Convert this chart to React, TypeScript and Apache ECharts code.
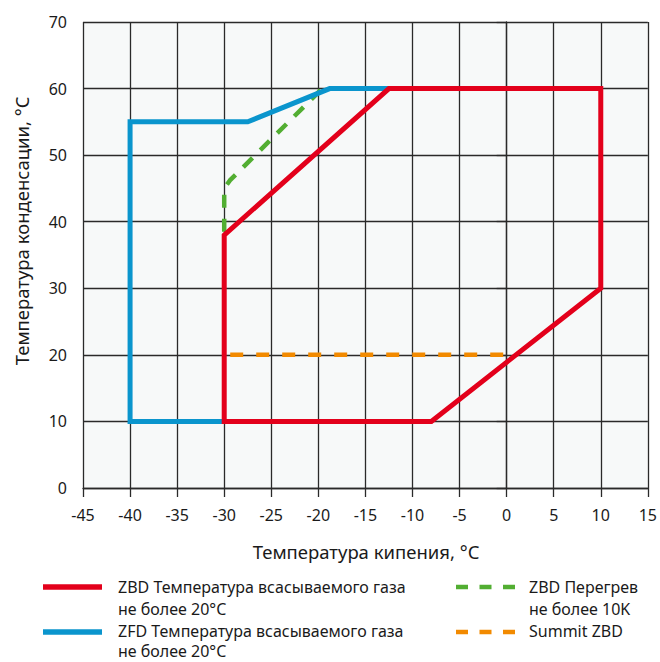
import React, { useEffect, useRef } from "react";
import * as echarts from "echarts";

// Data (evaporating temperature x, condensing temperature y)
const zbdX = [-30, -8, 10, 10, -12.5, -30, -30];
const zbdY = [10, 10, 30, 60, 60, 38, 10];
const zfdX = [-30, -40, -40, -27.5, -18.8, -12.5];
const zfdY = [10, 10, 55, 55, 60, 60];
const superheatX = [-30, -30, -29.4, -19.6];
const superheatY = [38.5, 45, 46.2, 60];
const summitX = [-30, 0.5];
const summitY = [20, 20];

const xTicks = [-45, -40, -35, -30, -25, -20, -15, -10, -5, 0, 5, 10, 15];
const yTicks = [0, 10, 20, 30, 40, 50, 60, 70];

const seriesNames = [
  ["ZBD Температура всасываемого газа", "не более 20°C"],
  ["ZFD Температура всасываемого газа", "не более 20°C"],
  ["ZBD Перегрев", "не более 10K"],
  ["Summit ZBD"],
];
const xTitle = "Температура кипения, °C";
const yTitle = "Температура конденсации, °C";

const RED = "#e3001b";
const BLUE = "#0a95cd";
const GREEN = "#52ae32";
const ORANGE = "#f28a00";
const FONT = '"Noto Sans", "Open Sans", sans-serif';

const pairs = (xs: number[], ys: number[]) => xs.map((x, i) => [x, ys[i]]);

export default function App() {
  const ref = useRef<HTMLDivElement>(null);
  useEffect(() => {
    if (!ref.current) return;
    const chart = echarts.init(ref.current, null, { renderer: "svg" });
    const gridLeft = 83, gridTop = 22, gridRight = 11, gridBottom = 174;
    const legendText = (x: number, y: number, t: string) => ({
      type: "text",
      x,
      y,
      style: {
        text: t,
        font: `16px ${FONT}`,
        fill: "#1a1a1a",
        textAlign: "left",
        verticalAlign: "middle",
        lineHeight: 16,
      },
    });
    const legendLine = (x: number, y: number, color: string, dash?: number[]) => ({
      type: "line",
      shape: { x1: x, y1: y, x2: x + 59, y2: y },
      style: { stroke: color, lineWidth: dash ? 4.5 : 5.5, lineDash: dash, lineCap: "butt" },
    });
    const join = (n: string[]) => n.join(" ");
    chart.setOption({
      animation: false,
      backgroundColor: "#ffffff",
      grid: {
        left: gridLeft,
        top: gridTop,
        right: gridRight,
        bottom: gridBottom,
        show: true,
        backgroundColor: "#f7f9f9",
        borderWidth: 0,
      },
      xAxis: {
        type: "value",
        min: xTicks[0],
        max: xTicks[xTicks.length - 1],
        interval: 5,
        axisLine: { show: true, onZero: false, lineStyle: { color: "#2a2a2a", width: 1.3 } },
        axisTick: { show: true, length: 9, lineStyle: { color: "#2a2a2a", width: 1.3 } },
        axisLabel: { margin: 19, fontSize: 16, fontFamily: FONT, color: "#1a1a1a" },
        splitLine: { show: true, lineStyle: { color: "#2a2a2a", width: 1.3 } },
      },
      yAxis: {
        type: "value",
        min: yTicks[0],
        max: yTicks[yTicks.length - 1],
        interval: 10,
        axisLine: { show: true, lineStyle: { color: "#2a2a2a", width: 1.3 } },
        axisTick: { show: true, length: 10, lineStyle: { color: "#2a2a2a", width: 1.3 } },
        axisLabel: { margin: 16, fontSize: 16, fontFamily: FONT, color: "#1a1a1a" },
        splitLine: { show: true, lineStyle: { color: "#2a2a2a", width: 1.3 } },
      },
      series: [
        {
          name: join(seriesNames[2]),
          type: "line",
          data: pairs(superheatX, superheatY),
          showSymbol: false,
          symbol: "none",
          lineStyle: { color: GREEN, width: 4.5, type: [13, 11], cap: "butt" },
          z: 3,
        },
        {
          name: join(seriesNames[3]),
          type: "line",
          data: pairs(summitX, summitY),
          showSymbol: false,
          symbol: "none",
          lineStyle: { color: ORANGE, width: 4.5, type: [13, 13], dashOffset: -6, cap: "butt" },
          z: 3,
        },
        {
          name: join(seriesNames[1]),
          type: "line",
          data: pairs(zfdX, zfdY),
          showSymbol: false,
          symbol: "none",
          lineStyle: { color: BLUE, width: 5, join: "miter", cap: "butt" },
          z: 4,
        },
        {
          name: join(seriesNames[0]),
          type: "line",
          data: pairs(zbdX, zbdY),
          showSymbol: false,
          symbol: "none",
          lineStyle: { color: RED, width: 5, join: "miter", cap: "square" },
          z: 5,
        },
      ],
      graphic: [
        {
          type: "text",
          x: 366,
          y: 551,
          style: {
            text: xTitle,
            font: `18.5px ${FONT}`,
            fill: "#1a1a1a",
            textAlign: "center",
            verticalAlign: "middle",
          },
        },
        {
          type: "text",
          x: 21,
          y: 231,
          rotation: Math.PI / 2,
          style: {
            text: yTitle,
            font: `18.5px ${FONT}`,
            fill: "#1a1a1a",
            textAlign: "center",
            verticalAlign: "middle",
          },
        },
        legendLine(43, 587, RED),
        legendText(118, 586.5, seriesNames[0][0]),
        legendText(118, 608.5, seriesNames[0][1]),
        legendLine(43, 632, BLUE),
        legendText(118, 631, seriesNames[1][0]),
        legendText(118, 651, seriesNames[1][1]),
        legendLine(456, 587, GREEN, [12, 11.5]),
        legendText(529, 586.5, seriesNames[2][0]),
        legendText(529, 608.5, seriesNames[2][1]),
        legendLine(456, 632, ORANGE, [12, 11.5]),
        legendText(529, 631, seriesNames[3][0]),
      ],
    });
    return () => chart.dispose();
  }, []);
  return (
    <div
      ref={ref}
      style={{ position: "fixed", left: 0, top: 0, width: 660, height: 662 }}
    />
  );
}
